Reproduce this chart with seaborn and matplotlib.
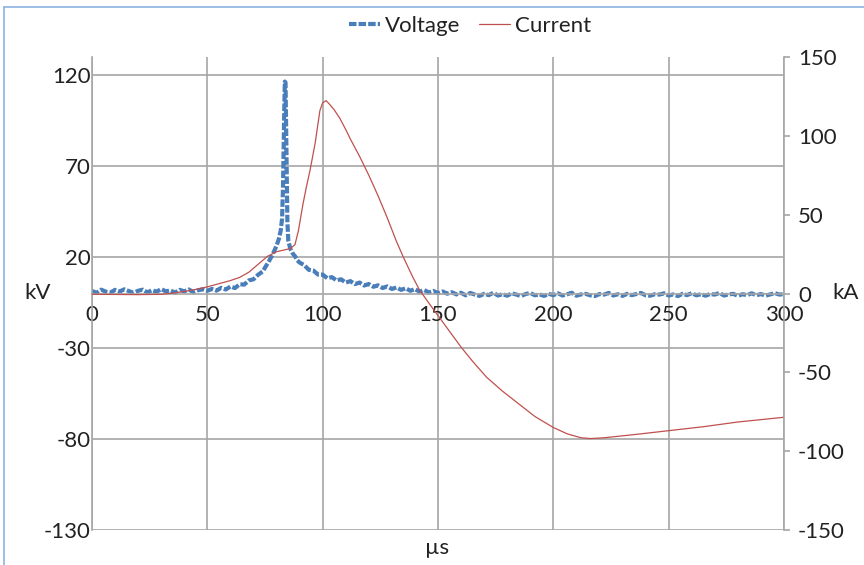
import numpy as np
import pandas as pd
import seaborn as sns
import matplotlib.pyplot as plt
from matplotlib.lines import Line2D

# voltage samples (kV)
t_base = list(range(0, 51, 2))
v_base = [1.4, 0.4, 2.1, 1.0, 0.5, 2.0, 1.1, 2.3, 1.3, 0.4,
          1.5, 2.1, 0.6, 1.8, 1.0, 2.4, 1.2, 1.7, 0.5, 2.0,
          1.2, 2.2, 0.7, 1.8, 2.3, 1.5]
t_rise = [52, 54, 56, 58, 60, 62, 64, 66, 68, 70,
          72, 74, 75.5, 77, 78.5, 80, 81, 81.8, 82.4, 82.8,
          83.1, 83.4, 83.6, 83.9, 84.1, 84.4, 84.7, 85.1, 86, 87,
          88, 89, 90]
v_rise = [2.5, 1.6, 3.1, 2.2, 3.8, 3.0, 5.1, 4.9, 7.2, 7.8,
          10.3, 12.1, 15.2, 18.4, 22.0, 26.2, 30.0, 34.5, 41.0, 58.0,
          82.0, 104.0, 116.5, 116.0, 96.0, 62.0, 40.0, 29.0, 24.5, 22.0,
          20.5, 18.2, 17.0]
t_decay = list(range(92, 161, 2))
v_decay = [15.6, 13.0, 12.6, 10.4, 10.4, 8.4, 9.0, 7.2, 7.8, 6.0,
           6.8, 5.2, 6.0, 4.4, 5.2, 3.7, 4.5, 3.0, 3.9, 2.5,
           3.3, 2.0, 2.9, 1.5, 2.4, 1.0, 1.9, 0.6, 1.4, 0.2,
           1.1, -0.1, 0.7, -0.5, 0.4]
t_tail = list(range(162, 301, 2))
v_tail = [-1.0, 0.3, -0.6, -1.3, -0.2, -0.9, 0.4, -1.1, -0.4, -1.2,
          0.1, -0.6, -1.4, -0.3, 0.3, -1.0, -0.5, -1.3, -0.2, -0.9,
          0.1, -1.1, -0.4, 0.4, -1.2, -0.5, -0.2, -1.0, -1.4, -0.3,
          -0.6, 0.3, -1.1, -0.4, -1.3, -0.2, -0.9, -0.3, 0.3, -1.0,
          -1.2, -0.4, -0.6, 0.1, -1.1, -0.5, -1.4, -0.2, -0.9, 0.2,
          -1.0, -0.4, -1.2, -0.3, -0.6, 0.3, -1.1, -0.5, -0.2, -1.3,
          -0.4, -0.9, 0.1, -1.0, -0.3, -1.2, -0.5, 0.2, -0.6, -0.3]

# current samples (kA)
t_current = [0, 10, 20, 30, 35, 40, 45, 50, 55, 60,
             64, 68, 72, 76, 80, 83, 86, 88, 89.5, 91.5,
             93, 94.5, 96.7, 98.8, 100, 101.5, 103, 105, 107.5, 110,
             112, 116, 120, 124, 128, 132, 135, 139, 142, 146.5,
             150, 155, 160, 165, 171, 178, 185, 192, 200, 206,
             212, 216, 222, 235, 250, 265, 280, 300]
current_ka = [-0.5, -0.6, -0.7, -0.5, 0.2, 1.3, 2.6, 4.2, 6.2, 8.2,
              10.2, 13.5, 18.5, 23.5, 26.5, 27.5, 28.5, 31, 40, 57,
              68, 78, 95, 116, 121, 122.3, 120, 116.5, 111, 104,
              98, 87, 75, 62, 48, 33, 23, 10.6, 2.2, -7,
              -14, -24, -34, -43, -53, -62, -70, -78, -85, -89,
              -91.5, -92, -91.5, -89.5, -87, -84.5, -81.5, -78.5]

x_ticks = [0, 50, 100, 150, 200, 250, 300]
kv_ticks = [-130, -80, -30, 20, 70, 120]
ka_ticks = [-150, -100, -50, 0, 50, 100, 150]

volt = pd.DataFrame({'t': t_base + t_rise + t_decay + t_tail,
                     'kV': v_base + v_rise + v_decay + v_tail})
curr = pd.DataFrame({'t': t_current, 'kA': current_ka})

sns.set_style('white')
plt.rcParams['font.family'] = ['Lato', 'DejaVu Sans']
plt.rcParams['axes.unicode_minus'] = False
txt = '#222222'
grid_c = '#a6a6a6'
blue = '#4a7ebb'
red = '#c0504d'

fig = plt.figure(figsize=(8.64, 5.65), dpi=100)
ax = fig.add_axes([92 / 864, 1 - 530 / 565, 692 / 864, 473 / 565])
ax2 = ax.twinx()

sns.lineplot(data=volt, x='t', y='kV', ax=ax, color=blue, lw=3.0,
             linestyle=(0, (1.8, 0.5)), estimator=None, legend=False,
             label='Voltage')
sns.lineplot(data=curr, x='t', y='kA', ax=ax2, color=red, lw=0.9,
             estimator=None, legend=False, label='Current')

ax.set_xlim(0, 300)
ax.set_ylim(-130, 130)
ax.set_xticks(x_ticks)
ax.set_yticks(kv_ticks)
ax2.set_ylim(-150, 150)
ax2.set_yticks(ka_ticks)
ax.set_xlabel('')
ax.set_ylabel('')
ax2.set_ylabel('')

ax.grid(True, color=grid_c, lw=1.2)
ax.set_axisbelow(True)
for s in ['top', 'right']:
    ax.spines[s].set_visible(False)
ax.spines['left'].set_color(grid_c)
ax.spines['left'].set_linewidth(1.2)
ax.spines['bottom'].set_position(('data', 0))
ax.spines['bottom'].set_color(grid_c)
ax.spines['bottom'].set_linewidth(1.2)
for s in ['top', 'left', 'bottom']:
    ax2.spines[s].set_visible(False)
ax2.spines['right'].set_color(grid_c)
ax2.spines['right'].set_linewidth(1.2)

ax.tick_params(axis='x', length=0, pad=8, labelsize=16, labelcolor=txt)
ax.tick_params(axis='y', length=0, pad=1, labelsize=16, labelcolor=txt)
ax2.tick_params(axis='y', length=4, width=1.2, color=grid_c, direction='out',
                pad=6, labelsize=16, labelcolor=txt)

fig.text(38 / 864, 1 - 293 / 565, 'kV', ha='center', va='center', fontsize=16, color=txt)
fig.text(846 / 864, 1 - 293 / 565, 'kA', ha='center', va='center', fontsize=16, color=txt)
fig.text(437 / 864, 1 - 548 / 565, 'µs', ha='center', va='center', fontsize=16, color=txt)

handles = [ax.get_lines()[0], ax2.get_lines()[0]]
fig.legend(handles, ['Voltage', 'Current'], loc='center',
           bbox_to_anchor=(470 / 864, 1 - 26 / 565), ncol=2, frameon=False,
           fontsize=16, handlelength=1.4, handletextpad=0.25,
           columnspacing=0.8, labelcolor=txt)

# thin blue chart frame along the left and top edges
fig.add_artist(Line2D([4 / 864, 4 / 864], [0, 1 - 7 / 565], transform=fig.transFigure,
                      color='#8db3e2', lw=1.2))
fig.add_artist(Line2D([4 / 864, 1], [1 - 7 / 565, 1 - 7 / 565], transform=fig.transFigure,
                      color='#8db3e2', lw=1.2))

fig.savefig('out.png', dpi=100)
